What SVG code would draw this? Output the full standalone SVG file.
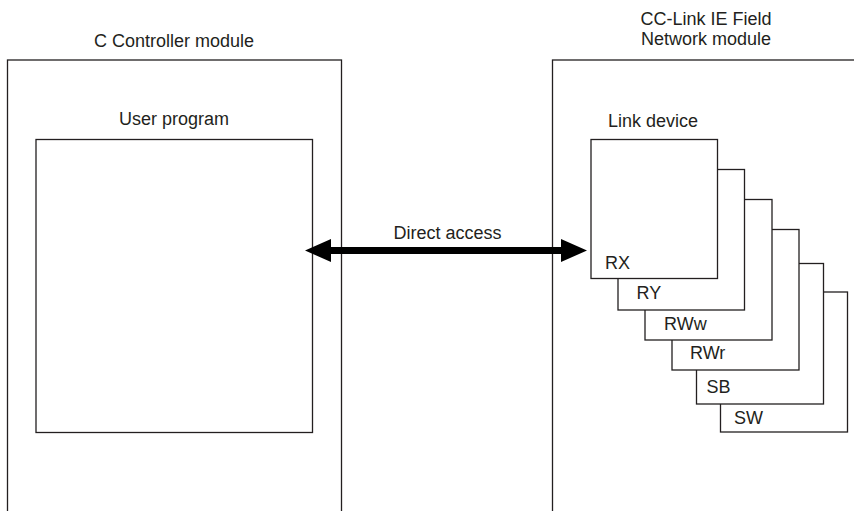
<svg xmlns="http://www.w3.org/2000/svg" width="854" height="511" viewBox="0 0 854 511">
<style>
.box{fill:#fff;stroke:#231f20;stroke-width:1.3}
.t{font-family:"Liberation Sans",Arial,sans-serif;font-size:18px;fill:#231f20}
.m{text-anchor:middle}
</style>
<rect width="854" height="511" fill="#fff"/>
<g id="c-controller">
<rect class="box" x="7.5" y="60" width="334" height="470"/>
<text class="t m" x="174" y="46.5">C Controller module</text>
</g>
<g id="user-program">
<rect class="box" x="36" y="139.5" width="276.5" height="293"/>
<text class="t m" x="174" y="125">User program</text>
</g>
<g id="cc-link">
<rect class="box" x="552.5" y="60" width="330" height="470"/>
<text class="t m" x="706" y="25">CC-Link IE Field</text>
<text class="t m" x="706" y="45">Network module</text>
</g>
<g id="link-device">
<text class="t" x="608" y="127">Link device</text>
<g id="sw"><rect class="box" x="720.5" y="292" width="127" height="140"/><text class="t" x="734" y="424">SW</text></g>
<g id="sb"><rect class="box" x="696.5" y="263.5" width="127" height="140.5"/><text class="t" x="706.5" y="393">SB</text></g>
<g id="rwr"><rect class="box" x="672" y="229.5" width="127" height="140.5"/><text class="t" x="690" y="359">RWr</text></g>
<g id="rww"><rect class="box" x="645" y="199.5" width="127" height="140.5"/><text class="t" x="664" y="330">RWw</text></g>
<g id="ry"><rect class="box" x="618" y="169.5" width="126.5" height="140.5"/><text class="t" x="636.5" y="299">RY</text></g>
<g id="rx"><rect class="box" x="591" y="139.5" width="126.5" height="139"/><text class="t" x="605" y="269">RX</text></g>
</g>
<g id="connectors">
<path d="M305,250.5 L331,239 L331,247 L561,247 L561,239 L587,250.5 L561,262 L561,254 L331,254 L331,262 Z" fill="#000"/>
<text class="t m" x="447.5" y="238.5">Direct access</text>
</g>
</svg>
